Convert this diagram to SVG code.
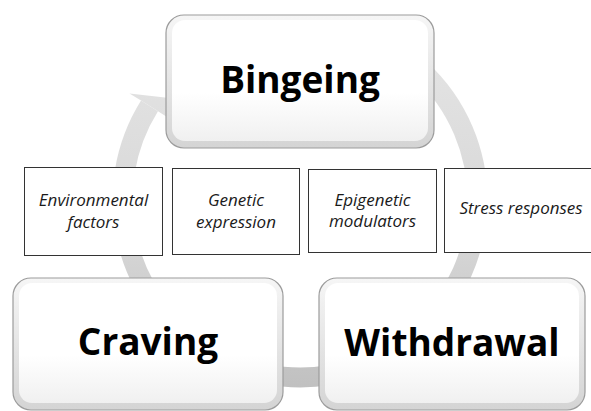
<svg xmlns="http://www.w3.org/2000/svg" width="591" height="411" viewBox="0 0 591 411">
  <style>
    .title { font-family: "Open Sans", "Liberation Sans", sans-serif; font-weight: bold; font-size: 37px; fill: #000; text-anchor: middle; }
    .factor { font-family: "Open Sans", "Liberation Sans", sans-serif; font-style: italic; font-size: 17px; fill: #1a1a1a; text-anchor: middle; }
    .fbox { fill: #fff; stroke: #333; stroke-width: 1; }
    .bevel { fill: url(#bevelGrad); stroke: #9c9c9c; stroke-width: 1.2; }
    .face { fill: url(#faceGrad); }
  </style>
  <defs>
    <linearGradient id="ringGrad" gradientUnits="userSpaceOnUse" x1="0" y1="20" x2="0" y2="390">
      <stop offset="0" stop-color="#e6e6e6"/>
      <stop offset="0.6" stop-color="#d6d6d6"/>
      <stop offset="1" stop-color="#c0c0c0"/>
    </linearGradient>
    <linearGradient id="bevelGrad" x1="0" y1="0" x2="0" y2="1">
      <stop offset="0" stop-color="#f6f6f6"/>
      <stop offset="1" stop-color="#d4d4d4"/>
    </linearGradient>
    <linearGradient id="faceGrad" x1="0" y1="0" x2="0" y2="1">
      <stop offset="0" stop-color="#ffffff"/>
      <stop offset="0.6" stop-color="#ffffff"/>
      <stop offset="1" stop-color="#f0f0f0"/>
    </linearGradient>
  </defs>
  <rect width="591" height="411" fill="#fff"/>

  <g id="connectors">
    <path d="M 360.7 33.2 A 177.5 177.5 0 1 1 149.5 105.9" fill="none" stroke="url(#ringGrad)" stroke-width="20"/>
    <polygon points="141,100.6 129.5,93.5 178,99 169.4,118.4 158,111.2" fill="url(#ringGrad)"/>
  </g>

  <g id="node-bingeing">
    <rect class="bevel" x="166" y="15" width="268" height="133" rx="18"/>
    <rect class="face" x="172" y="20" width="256" height="121" rx="13"/>
    <text class="title" x="300" y="93">Bingeing</text>
  </g>

  <g id="node-craving">
    <rect class="bevel" x="13" y="278" width="270" height="132" rx="18"/>
    <rect class="face" x="19" y="283" width="258" height="120" rx="13"/>
    <text class="title" x="148" y="355">Craving</text>
  </g>

  <g id="node-withdrawal">
    <rect class="bevel" x="319" y="278" width="266" height="132" rx="18"/>
    <rect class="face" x="325" y="283" width="254" height="120" rx="13"/>
    <text class="title" x="452" y="356">Withdrawal</text>
  </g>

  <g id="factor-environmental">
    <rect class="fbox" x="24.5" y="167.5" width="138" height="88"/>
    <text class="factor" x="93.5" y="206">Environmental</text>
    <text class="factor" x="93.5" y="228">factors</text>
  </g>

  <g id="factor-genetic">
    <rect class="fbox" x="172.5" y="168.5" width="127" height="86"/>
    <text class="factor" x="236" y="206">Genetic</text>
    <text class="factor" x="236" y="228">expression</text>
  </g>

  <g id="factor-epigenetic">
    <rect class="fbox" x="308.5" y="169.5" width="128" height="83"/>
    <text class="factor" x="372.5" y="206">Epigenetic</text>
    <text class="factor" x="372.5" y="227">modulators</text>
  </g>

  <g id="factor-stress">
    <rect class="fbox" x="444.5" y="168.5" width="150" height="84"/>
    <text class="factor" x="521" y="214">Stress responses</text>
  </g>
</svg>
